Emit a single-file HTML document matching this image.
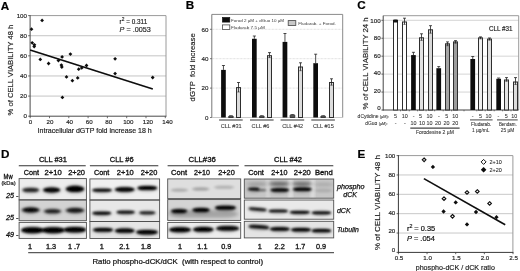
<!DOCTYPE html>
<html><head><meta charset="utf-8"><title>Figure</title>
<style>html,body{margin:0;padding:0;background:#fff}svg{display:block}</style></head>
<body>
<svg width="520" height="271" viewBox="0 0 520 271" font-family='"Liberation Sans", Arial, sans-serif'>
<defs>
<filter id="b1" x="-20%" y="-100%" width="140%" height="300%"><feGaussianBlur stdDeviation="1.3 0.95"/></filter>
<filter id="b2" x="-20%" y="-100%" width="140%" height="300%"><feGaussianBlur stdDeviation="1.7 1.3"/></filter>
<filter id="b3" x="-20%" y="-100%" width="140%" height="300%"><feGaussianBlur stdDeviation="2 1.6"/></filter>
<filter id="soft"><feGaussianBlur stdDeviation="0.35"/></filter>
</defs>
<rect width="520" height="271" fill="#fff"/>
<g filter="url(#soft)">
<text x="0.7" y="9.6" font-size="11.7" fill="#000" font-weight="bold" stroke="#000" stroke-width="0.2" >A</text>
<text x="185.8" y="9.3" font-size="11.7" fill="#000" font-weight="bold" stroke="#000" stroke-width="0.2" >B</text>
<text x="357.2" y="9.2" font-size="11.7" fill="#000" font-weight="bold" stroke="#000" stroke-width="0.2" >C</text>
<text x="0.9" y="157.5" font-size="11.7" fill="#000" font-weight="bold" stroke="#000" stroke-width="0.2" >D</text>
<text x="357.4" y="157.5" font-size="11.7" fill="#000" font-weight="bold" stroke="#000" stroke-width="0.2" >E</text>
<line x1="30.1" y1="96.08" x2="166.0" y2="96.08" stroke="#c4c4c4" stroke-width="1" />
<line x1="30.1" y1="75.96" x2="166.0" y2="75.96" stroke="#c4c4c4" stroke-width="1" />
<line x1="30.1" y1="55.84" x2="166.0" y2="55.84" stroke="#c4c4c4" stroke-width="1" />
<line x1="30.1" y1="35.72" x2="166.0" y2="35.72" stroke="#c4c4c4" stroke-width="1" />
<line x1="30.1" y1="15.6" x2="166.0" y2="15.6" stroke="#9a9a9a" stroke-width="1" />
<line x1="166.0" y1="15.6" x2="166.0" y2="116.2" stroke="#9a9a9a" stroke-width="1" />
<line x1="30.1" y1="15.1" x2="30.1" y2="116.7" stroke="#4a4a4a" stroke-width="1" />
<line x1="29.6" y1="116.2" x2="166.5" y2="116.2" stroke="#4a4a4a" stroke-width="1" />
<line x1="28.1" y1="116.20" x2="30.1" y2="116.20" stroke="#4a4a4a" stroke-width="0.8" />
<text x="27.0" y="117.82" font-size="6.2" fill="#222" text-anchor="end" stroke="#222" stroke-width="0.16" >0</text>
<line x1="28.1" y1="96.08" x2="30.1" y2="96.08" stroke="#4a4a4a" stroke-width="0.8" />
<text x="27.0" y="97.84" font-size="6.2" fill="#222" text-anchor="end" stroke="#222" stroke-width="0.16" >20</text>
<line x1="28.1" y1="75.96" x2="30.1" y2="75.96" stroke="#4a4a4a" stroke-width="0.8" />
<text x="27.0" y="77.86" font-size="6.2" fill="#222" text-anchor="end" stroke="#222" stroke-width="0.16" >40</text>
<line x1="28.1" y1="55.84" x2="30.1" y2="55.84" stroke="#4a4a4a" stroke-width="0.8" />
<text x="27.0" y="57.88" font-size="6.2" fill="#222" text-anchor="end" stroke="#222" stroke-width="0.16" >60</text>
<line x1="28.1" y1="35.72" x2="30.1" y2="35.72" stroke="#4a4a4a" stroke-width="0.8" />
<text x="27.0" y="37.90" font-size="6.2" fill="#222" text-anchor="end" stroke="#222" stroke-width="0.16" >80</text>
<line x1="28.1" y1="15.60" x2="30.1" y2="15.60" stroke="#4a4a4a" stroke-width="0.8" />
<text x="27.0" y="17.92" font-size="6.2" fill="#222" text-anchor="end" stroke="#222" stroke-width="0.16" >100</text>
<line x1="30.20" y1="116.2" x2="30.20" y2="118.2" stroke="#4a4a4a" stroke-width="0.8" />
<text x="30.50" y="123.7" font-size="6.2" fill="#222" text-anchor="middle" stroke="#222" stroke-width="0.16" >0</text>
<line x1="49.50" y1="116.2" x2="49.50" y2="118.2" stroke="#4a4a4a" stroke-width="0.8" />
<text x="50.06" y="123.7" font-size="6.2" fill="#222" text-anchor="middle" stroke="#222" stroke-width="0.16" >20</text>
<line x1="68.80" y1="116.2" x2="68.80" y2="118.2" stroke="#4a4a4a" stroke-width="0.8" />
<text x="69.62" y="123.7" font-size="6.2" fill="#222" text-anchor="middle" stroke="#222" stroke-width="0.16" >40</text>
<line x1="88.10" y1="116.2" x2="88.10" y2="118.2" stroke="#4a4a4a" stroke-width="0.8" />
<text x="89.18" y="123.7" font-size="6.2" fill="#222" text-anchor="middle" stroke="#222" stroke-width="0.16" >60</text>
<line x1="107.40" y1="116.2" x2="107.40" y2="118.2" stroke="#4a4a4a" stroke-width="0.8" />
<text x="108.74" y="123.7" font-size="6.2" fill="#222" text-anchor="middle" stroke="#222" stroke-width="0.16" >80</text>
<line x1="126.70" y1="116.2" x2="126.70" y2="118.2" stroke="#4a4a4a" stroke-width="0.8" />
<text x="128.30" y="123.7" font-size="6.2" fill="#222" text-anchor="middle" stroke="#222" stroke-width="0.16" >100</text>
<line x1="146.00" y1="116.2" x2="146.00" y2="118.2" stroke="#4a4a4a" stroke-width="0.8" />
<text x="147.86" y="123.7" font-size="6.2" fill="#222" text-anchor="middle" stroke="#222" stroke-width="0.16" >120</text>
<line x1="165.30" y1="116.2" x2="165.30" y2="118.2" stroke="#4a4a4a" stroke-width="0.8" />
<text x="167.42" y="123.7" font-size="6.2" fill="#222" text-anchor="middle" stroke="#222" stroke-width="0.16" >140</text>
<text x="37.6" y="132.6" font-size="7" fill="#1a1a1a" textLength="114.2" lengthAdjust="spacingAndGlyphs" stroke="#1a1a1a" stroke-width="0.16" >Intracellular dGTP fold increase 18 h</text>
<text x="12.8" y="115.5" font-size="7.6" fill="#222" textLength="90.8" lengthAdjust="spacingAndGlyphs" transform="rotate(-90 12.8 115.5)" stroke="#222" stroke-width="0.16" >% of CELL VIABILITY 48 h</text>
<path d="M42.10 18.50L44.00 20.40L42.10 22.30L40.20 20.40Z" fill="#111" stroke="none" stroke-width="0.8"/>
<path d="M31.50 27.30L33.40 29.20L31.50 31.10L29.60 29.20Z" fill="#111" stroke="none" stroke-width="0.8"/>
<path d="M32.20 40.90L34.10 42.80L32.20 44.70L30.30 42.80Z" fill="#111" stroke="none" stroke-width="0.8"/>
<path d="M34.40 42.90L36.30 44.80L34.40 46.70L32.50 44.80Z" fill="#111" stroke="none" stroke-width="0.8"/>
<path d="M34.20 44.60L36.10 46.50L34.20 48.40L32.30 46.50Z" fill="#111" stroke="none" stroke-width="0.8"/>
<path d="M40.30 57.50L42.20 59.40L40.30 61.30L38.40 59.40Z" fill="#111" stroke="none" stroke-width="0.8"/>
<path d="M48.60 61.60L50.50 63.50L48.60 65.40L46.70 63.50Z" fill="#111" stroke="none" stroke-width="0.8"/>
<path d="M58.40 58.60L60.30 60.50L58.40 62.40L56.50 60.50Z" fill="#111" stroke="none" stroke-width="0.8"/>
<path d="M62.10 55.00L64.00 56.90L62.10 58.80L60.20 56.90Z" fill="#111" stroke="none" stroke-width="0.8"/>
<path d="M70.40 52.20L72.30 54.10L70.40 56.00L68.50 54.10Z" fill="#111" stroke="none" stroke-width="0.8"/>
<path d="M61.40 63.20L63.30 65.10L61.40 67.00L59.50 65.10Z" fill="#111" stroke="none" stroke-width="0.8"/>
<path d="M61.80 65.10L63.70 67.00L61.80 68.90L59.90 67.00Z" fill="#111" stroke="none" stroke-width="0.8"/>
<path d="M78.70 67.30L80.60 69.20L78.70 71.10L76.80 69.20Z" fill="#111" stroke="none" stroke-width="0.8"/>
<path d="M81.70 66.00L83.60 67.90L81.70 69.80L79.80 67.90Z" fill="#111" stroke="none" stroke-width="0.8"/>
<path d="M86.50 63.60L88.40 65.50L86.50 67.40L84.60 65.50Z" fill="#111" stroke="none" stroke-width="0.8"/>
<path d="M66.50 75.00L68.40 76.90L66.50 78.80L64.60 76.90Z" fill="#111" stroke="none" stroke-width="0.8"/>
<path d="M72.40 78.80L74.30 80.70L72.40 82.60L70.50 80.70Z" fill="#111" stroke="none" stroke-width="0.8"/>
<path d="M77.70 76.00L79.60 77.90L77.70 79.80L75.80 77.90Z" fill="#111" stroke="none" stroke-width="0.8"/>
<path d="M62.40 95.50L64.30 97.40L62.40 99.30L60.50 97.40Z" fill="#111" stroke="none" stroke-width="0.8"/>
<path d="M115.10 56.90L117.00 58.80L115.10 60.70L113.20 58.80Z" fill="#111" stroke="none" stroke-width="0.8"/>
<path d="M115.10 71.70L117.00 73.60L115.10 75.50L113.20 73.60Z" fill="#111" stroke="none" stroke-width="0.8"/>
<path d="M152.70 75.60L154.60 77.50L152.70 79.40L150.80 77.50Z" fill="#111" stroke="none" stroke-width="0.8"/>
<line x1="30.1" y1="49.9" x2="152.8" y2="89.0" stroke="#0a0a0a" stroke-width="1.6" />
<text x="119.6" y="23.6" font-size="6.6" fill="#1a1a1a" stroke="#1a1a1a" stroke-width="0.15" textLength="27.6" lengthAdjust="spacingAndGlyphs">r<tspan dy="-2.2" font-size="5">2</tspan><tspan dy="2.2"> = 0.311</tspan></text>
<text x="119.6" y="32.0" font-size="7" fill="#1a1a1a" stroke="#1a1a1a" stroke-width="0.15" textLength="31.1" lengthAdjust="spacingAndGlyphs"><tspan font-style="italic">P</tspan> = .0053</text>
<line x1="211.8" y1="88.10" x2="342.7" y2="88.10" stroke="#d2d2d2" stroke-width="0.8" stroke-dasharray="0.8 0.6"/>
<line x1="211.8" y1="58.70" x2="342.7" y2="58.70" stroke="#d2d2d2" stroke-width="0.8" stroke-dasharray="0.8 0.6"/>
<line x1="211.8" y1="29.30" x2="342.7" y2="29.30" stroke="#d2d2d2" stroke-width="0.8" stroke-dasharray="0.8 0.6"/>
<line x1="211.8" y1="14.4" x2="342.7" y2="14.4" stroke="#8a8a8a" stroke-width="1" />
<line x1="342.7" y1="14.4" x2="342.7" y2="117.5" stroke="#8a8a8a" stroke-width="1" />
<line x1="211.8" y1="14.4" x2="211.8" y2="117.5" stroke="#777" stroke-width="1" />
<line x1="211.8" y1="117.5" x2="342.7" y2="117.5" stroke="#bbb" stroke-width="0.8" />
<line x1="210.0" y1="117.50" x2="211.8" y2="117.50" stroke="#555" stroke-width="0.8" />
<text x="208.4" y="119.72" font-size="6.2" fill="#222" text-anchor="end" stroke="#222" stroke-width="0.16" >0</text>
<line x1="210.0" y1="88.10" x2="211.8" y2="88.10" stroke="#555" stroke-width="0.8" />
<text x="208.4" y="90.32" font-size="6.2" fill="#222" text-anchor="end" stroke="#222" stroke-width="0.16" >20</text>
<line x1="210.0" y1="58.70" x2="211.8" y2="58.70" stroke="#555" stroke-width="0.8" />
<text x="208.4" y="60.92" font-size="6.2" fill="#222" text-anchor="end" stroke="#222" stroke-width="0.16" >40</text>
<line x1="210.0" y1="29.30" x2="211.8" y2="29.30" stroke="#555" stroke-width="0.8" />
<text x="208.4" y="31.52" font-size="6.2" fill="#222" text-anchor="end" stroke="#222" stroke-width="0.16" >60</text>
<text x="195.3" y="101.4" font-size="7.7" fill="#222" textLength="68.2" lengthAdjust="spacingAndGlyphs" transform="rotate(-90 195.3 101.4)" stroke="#222" stroke-width="0.16" style="white-space:pre">dGTP  fold increase</text>
<rect x="222.40" y="17.40" width="7.40" height="4.70" fill="#111" stroke="#111" stroke-width="0.6" />
<rect x="222.40" y="24.90" width="7.40" height="4.70" fill="#fff" stroke="#333" stroke-width="0.7" />
<rect x="288.20" y="20.60" width="7.60" height="4.90" fill="#c8c8c8" stroke="#444" stroke-width="0.8" />
<text x="231.0" y="21.7" font-size="4.3" fill="#3a3a3a" textLength="53" lengthAdjust="spacingAndGlyphs" >Forod 2 µM + dGuo 10 µM</text>
<text x="231.0" y="28.6" font-size="4.3" fill="#3a3a3a" textLength="33.8" lengthAdjust="spacingAndGlyphs" >Fludarab 7.5 µM</text>
<text x="298.3" y="24.8" font-size="4.3" fill="#3a3a3a" textLength="37.5" lengthAdjust="spacingAndGlyphs" >Fludarab. + Forod.</text>
<line x1="223.45" y1="65.50" x2="223.45" y2="69.90" stroke="#222" stroke-width="0.8" />
<line x1="221.95" y1="65.50" x2="224.95" y2="65.50" stroke="#222" stroke-width="0.8" />
<rect x="221.10" y="69.90" width="4.70" height="47.60" fill="#0a0a0a" stroke="none" stroke-width="1" />
<path d="M228.60 117.5 V116.70 Q228.60 115.70 230.10 115.70 H231.80 Q233.30 115.70 233.30 116.70 V117.5 Z" fill="#555" stroke="#222" stroke-width="0.8"/>
<rect x="236.50" y="87.60" width="4.00" height="29.90" fill="#dcdcdc" stroke="#2e2e2e" stroke-width="1.0" />
<line x1="238.50" y1="82.50" x2="238.50" y2="92.00" stroke="#222" stroke-width="0.8" />
<line x1="237.00" y1="82.50" x2="240.00" y2="82.50" stroke="#222" stroke-width="0.8" />
<line x1="237.30" y1="92.00" x2="239.70" y2="92.00" stroke="#222" stroke-width="0.6" />
<line x1="219.10" y1="120.0" x2="242.70" y2="120.0" stroke="#555" stroke-width="1.2" />
<text x="220.70" y="127.8" font-size="5.6" fill="#333" stroke="#333" stroke-width="0.08" >CLL #31</text>
<line x1="254.35" y1="36.00" x2="254.35" y2="38.80" stroke="#222" stroke-width="0.8" />
<line x1="252.85" y1="36.00" x2="255.85" y2="36.00" stroke="#222" stroke-width="0.8" />
<rect x="252.00" y="38.80" width="4.70" height="78.70" fill="#0a0a0a" stroke="none" stroke-width="1" />
<path d="M259.50 117.5 V116.70 Q259.50 115.70 261.00 115.70 H262.70 Q264.20 115.70 264.20 116.70 V117.5 Z" fill="#555" stroke="#222" stroke-width="0.8"/>
<rect x="267.50" y="55.70" width="4.00" height="61.80" fill="#dcdcdc" stroke="#2e2e2e" stroke-width="1.0" />
<line x1="269.50" y1="52.60" x2="269.50" y2="57.60" stroke="#222" stroke-width="0.8" />
<line x1="268.00" y1="52.60" x2="271.00" y2="52.60" stroke="#222" stroke-width="0.8" />
<line x1="268.30" y1="57.60" x2="270.70" y2="57.60" stroke="#222" stroke-width="0.6" />
<line x1="250.00" y1="120.0" x2="273.60" y2="120.0" stroke="#555" stroke-width="1.2" />
<text x="251.60" y="127.8" font-size="5.6" fill="#333" stroke="#333" stroke-width="0.08" >CLL #6</text>
<line x1="284.95" y1="33.50" x2="284.95" y2="41.90" stroke="#222" stroke-width="0.8" />
<line x1="283.45" y1="33.50" x2="286.45" y2="33.50" stroke="#222" stroke-width="0.8" />
<rect x="282.60" y="41.90" width="4.70" height="75.60" fill="#0a0a0a" stroke="none" stroke-width="1" />
<path d="M290.10 117.5 V115.60 Q290.10 114.60 291.60 114.60 H293.30 Q294.80 114.60 294.80 115.60 V117.5 Z" fill="#555" stroke="#222" stroke-width="0.8"/>
<rect x="298.50" y="67.00" width="4.00" height="50.50" fill="#dcdcdc" stroke="#2e2e2e" stroke-width="1.0" />
<line x1="300.50" y1="62.80" x2="300.50" y2="70.70" stroke="#222" stroke-width="0.8" />
<line x1="299.00" y1="62.80" x2="302.00" y2="62.80" stroke="#222" stroke-width="0.8" />
<line x1="299.30" y1="70.70" x2="301.70" y2="70.70" stroke="#222" stroke-width="0.6" />
<line x1="280.60" y1="120.0" x2="304.20" y2="120.0" stroke="#555" stroke-width="1.2" />
<text x="282.20" y="127.8" font-size="5.6" fill="#333" stroke="#333" stroke-width="0.08" >CLL #42</text>
<line x1="315.65" y1="54.20" x2="315.65" y2="63.20" stroke="#222" stroke-width="0.8" />
<line x1="314.15" y1="54.20" x2="317.15" y2="54.20" stroke="#222" stroke-width="0.8" />
<rect x="313.30" y="63.20" width="4.70" height="54.30" fill="#0a0a0a" stroke="none" stroke-width="1" />
<path d="M320.80 117.5 V116.70 Q320.80 115.70 322.30 115.70 H324.00 Q325.50 115.70 325.50 116.70 V117.5 Z" fill="#555" stroke="#222" stroke-width="0.8"/>
<rect x="329.50" y="82.50" width="4.00" height="35.00" fill="#dcdcdc" stroke="#2e2e2e" stroke-width="1.0" />
<line x1="331.50" y1="78.80" x2="331.50" y2="85.20" stroke="#222" stroke-width="0.8" />
<line x1="330.00" y1="78.80" x2="333.00" y2="78.80" stroke="#222" stroke-width="0.8" />
<line x1="330.30" y1="85.20" x2="332.70" y2="85.20" stroke="#222" stroke-width="0.6" />
<line x1="311.30" y1="120.0" x2="334.90" y2="120.0" stroke="#555" stroke-width="1.2" />
<text x="312.90" y="127.8" font-size="5.6" fill="#333" stroke="#333" stroke-width="0.08" >CLL #15</text>
<line x1="383.2" y1="92.06" x2="518.7" y2="92.06" stroke="#d0d0d0" stroke-width="0.9" />
<line x1="383.2" y1="74.12" x2="518.7" y2="74.12" stroke="#d0d0d0" stroke-width="0.9" />
<line x1="383.2" y1="56.18" x2="518.7" y2="56.18" stroke="#d0d0d0" stroke-width="0.9" />
<line x1="383.2" y1="38.24" x2="518.7" y2="38.24" stroke="#d0d0d0" stroke-width="0.9" />
<line x1="383.2" y1="20.30" x2="518.7" y2="20.30" stroke="#d0d0d0" stroke-width="0.9" />
<line x1="383.2" y1="15.7" x2="518.7" y2="15.7" stroke="#9a9a9a" stroke-width="1" />
<line x1="518.7" y1="15.7" x2="518.7" y2="110.0" stroke="#9a9a9a" stroke-width="1" />
<line x1="383.2" y1="15.7" x2="383.2" y2="110.5" stroke="#444" stroke-width="1" />
<line x1="382.7" y1="110.0" x2="518.7" y2="110.0" stroke="#444" stroke-width="1" />
<line x1="381.4" y1="110.00" x2="383.2" y2="110.00" stroke="#444" stroke-width="0.8" />
<text x="380.6" y="110.32" font-size="6.2" fill="#222" text-anchor="end" stroke="#222" stroke-width="0.16" >0</text>
<line x1="381.4" y1="92.06" x2="383.2" y2="92.06" stroke="#444" stroke-width="0.8" />
<text x="380.6" y="92.84" font-size="6.2" fill="#222" text-anchor="end" stroke="#222" stroke-width="0.16" >20</text>
<line x1="381.4" y1="74.12" x2="383.2" y2="74.12" stroke="#444" stroke-width="0.8" />
<text x="380.6" y="75.36" font-size="6.2" fill="#222" text-anchor="end" stroke="#222" stroke-width="0.16" >40</text>
<line x1="381.4" y1="56.18" x2="383.2" y2="56.18" stroke="#444" stroke-width="0.8" />
<text x="380.6" y="57.88" font-size="6.2" fill="#222" text-anchor="end" stroke="#222" stroke-width="0.16" >60</text>
<line x1="381.4" y1="38.24" x2="383.2" y2="38.24" stroke="#444" stroke-width="0.8" />
<text x="380.6" y="40.40" font-size="6.2" fill="#222" text-anchor="end" stroke="#222" stroke-width="0.16" >80</text>
<line x1="381.4" y1="20.30" x2="383.2" y2="20.30" stroke="#444" stroke-width="0.8" />
<text x="380.6" y="22.92" font-size="6.2" fill="#222" text-anchor="end" stroke="#222" stroke-width="0.16" >100</text>
<text x="368.3" y="109.4" font-size="7.7" fill="#222" textLength="92" lengthAdjust="spacingAndGlyphs" transform="rotate(-90 368.3 109.4)" stroke="#222" stroke-width="0.16" >% of CELL VIABILITY 24 h</text>
<text x="489.1" y="30.7" font-size="6.3" fill="#222" textLength="23.4" lengthAdjust="spacingAndGlyphs" stroke="#222" stroke-width="0.16" >CLL #31</text>
<rect x="393.50" y="20.40" width="4.00" height="89.60" fill="#fff" stroke="#2e2e2e" stroke-width="1.0" />
<path d="M393.00 22.40 V20.80 Q393.00 19.40 394.50 19.40 H396.50 Q398.00 19.40 398.00 20.80 V22.40 Z" fill="#161616"/>
<rect x="402.50" y="22.00" width="4.00" height="88.00" fill="#fff" stroke="#2e2e2e" stroke-width="1.0" />
<line x1="404.50" y1="18.20" x2="404.50" y2="24.40" stroke="#222" stroke-width="0.8" />
<line x1="403.00" y1="18.20" x2="406.00" y2="18.20" stroke="#222" stroke-width="0.8" />
<line x1="403.30" y1="24.40" x2="405.70" y2="24.40" stroke="#222" stroke-width="0.6" />
<rect x="411.10" y="55.10" width="4.70" height="54.90" fill="#0a0a0a" stroke="none" stroke-width="1" />
<line x1="413.45" y1="52.30" x2="413.45" y2="55.10" stroke="#222" stroke-width="0.8" />
<line x1="411.95" y1="52.30" x2="414.95" y2="52.30" stroke="#222" stroke-width="0.8" />
<rect x="419.50" y="37.80" width="4.00" height="72.20" fill="#e2e2e2" stroke="#2e2e2e" stroke-width="1.0" />
<line x1="421.50" y1="33.80" x2="421.50" y2="40.40" stroke="#222" stroke-width="0.8" />
<line x1="420.00" y1="33.80" x2="423.00" y2="33.80" stroke="#222" stroke-width="0.8" />
<line x1="420.30" y1="40.40" x2="422.70" y2="40.40" stroke="#222" stroke-width="0.6" />
<rect x="428.50" y="29.80" width="4.00" height="80.20" fill="#d8d8d8" stroke="#2e2e2e" stroke-width="1.0" />
<line x1="430.50" y1="25.70" x2="430.50" y2="33.20" stroke="#222" stroke-width="0.8" />
<line x1="429.00" y1="25.70" x2="432.00" y2="25.70" stroke="#222" stroke-width="0.8" />
<line x1="429.30" y1="33.20" x2="431.70" y2="33.20" stroke="#222" stroke-width="0.6" />
<rect x="436.40" y="68.20" width="4.70" height="41.80" fill="#0a0a0a" stroke="none" stroke-width="1" />
<line x1="438.75" y1="66.60" x2="438.75" y2="68.20" stroke="#222" stroke-width="0.8" />
<line x1="437.25" y1="66.60" x2="440.25" y2="66.60" stroke="#222" stroke-width="0.8" />
<rect x="445.50" y="43.80" width="4.00" height="66.20" fill="#a4a4a4" stroke="#2e2e2e" stroke-width="1.0" />
<line x1="447.50" y1="41.90" x2="447.50" y2="45.70" stroke="#222" stroke-width="0.8" />
<line x1="446.00" y1="41.90" x2="449.00" y2="41.90" stroke="#222" stroke-width="0.8" />
<line x1="446.30" y1="45.70" x2="448.70" y2="45.70" stroke="#222" stroke-width="0.6" />
<rect x="453.50" y="41.90" width="4.00" height="68.10" fill="#9c9c9c" stroke="#2e2e2e" stroke-width="1.0" />
<line x1="455.50" y1="40.60" x2="455.50" y2="43.20" stroke="#222" stroke-width="0.8" />
<line x1="454.00" y1="40.60" x2="457.00" y2="40.60" stroke="#222" stroke-width="0.8" />
<line x1="454.30" y1="43.20" x2="456.70" y2="43.20" stroke="#222" stroke-width="0.6" />
<rect x="470.40" y="59.00" width="4.70" height="51.00" fill="#0a0a0a" stroke="none" stroke-width="1" />
<line x1="472.75" y1="56.50" x2="472.75" y2="59.00" stroke="#222" stroke-width="0.8" />
<line x1="471.25" y1="56.50" x2="474.25" y2="56.50" stroke="#222" stroke-width="0.8" />
<rect x="478.50" y="37.90" width="4.00" height="72.10" fill="#f0f0f0" stroke="#2e2e2e" stroke-width="1.0" />
<line x1="480.50" y1="36.90" x2="480.50" y2="38.90" stroke="#222" stroke-width="0.8" />
<line x1="479.00" y1="36.90" x2="482.00" y2="36.90" stroke="#222" stroke-width="0.8" />
<line x1="479.30" y1="38.90" x2="481.70" y2="38.90" stroke="#222" stroke-width="0.6" />
<rect x="487.50" y="39.10" width="4.00" height="70.90" fill="#dedede" stroke="#2e2e2e" stroke-width="1.0" />
<line x1="489.50" y1="38.00" x2="489.50" y2="40.20" stroke="#222" stroke-width="0.8" />
<line x1="488.00" y1="38.00" x2="491.00" y2="38.00" stroke="#222" stroke-width="0.8" />
<line x1="488.30" y1="40.20" x2="490.70" y2="40.20" stroke="#222" stroke-width="0.6" />
<rect x="496.30" y="78.80" width="4.70" height="31.20" fill="#0a0a0a" stroke="none" stroke-width="1" />
<line x1="498.65" y1="78.00" x2="498.65" y2="78.80" stroke="#222" stroke-width="0.8" />
<line x1="497.15" y1="78.00" x2="500.15" y2="78.00" stroke="#222" stroke-width="0.8" />
<rect x="504.50" y="80.00" width="4.00" height="30.00" fill="#e4e4e4" stroke="#2e2e2e" stroke-width="1.0" />
<line x1="506.50" y1="77.60" x2="506.50" y2="81.30" stroke="#222" stroke-width="0.8" />
<line x1="505.00" y1="77.60" x2="508.00" y2="77.60" stroke="#222" stroke-width="0.8" />
<line x1="505.30" y1="81.30" x2="507.70" y2="81.30" stroke="#222" stroke-width="0.6" />
<rect x="513.50" y="82.00" width="4.00" height="28.00" fill="#dedede" stroke="#2e2e2e" stroke-width="1.0" />
<line x1="515.50" y1="77.60" x2="515.50" y2="84.50" stroke="#222" stroke-width="0.8" />
<line x1="514.00" y1="77.60" x2="517.00" y2="77.60" stroke="#222" stroke-width="0.8" />
<line x1="514.30" y1="84.50" x2="516.70" y2="84.50" stroke="#222" stroke-width="0.6" />
<line x1="400.5" y1="110.0" x2="400.5" y2="111.3" stroke="#444" stroke-width="0.7" />
<line x1="409.3" y1="110.0" x2="409.3" y2="111.3" stroke="#444" stroke-width="0.7" />
<line x1="417.6" y1="110.0" x2="417.6" y2="111.3" stroke="#444" stroke-width="0.7" />
<line x1="426.1" y1="110.0" x2="426.1" y2="111.3" stroke="#444" stroke-width="0.7" />
<line x1="434.6" y1="110.0" x2="434.6" y2="111.3" stroke="#444" stroke-width="0.7" />
<line x1="443.2" y1="110.0" x2="443.2" y2="111.3" stroke="#444" stroke-width="0.7" />
<line x1="451.6" y1="110.0" x2="451.6" y2="111.3" stroke="#444" stroke-width="0.7" />
<line x1="464" y1="110.0" x2="464" y2="111.3" stroke="#444" stroke-width="0.7" />
<line x1="476.8" y1="110.0" x2="476.8" y2="111.3" stroke="#444" stroke-width="0.7" />
<line x1="485.2" y1="110.0" x2="485.2" y2="111.3" stroke="#444" stroke-width="0.7" />
<line x1="494.2" y1="110.0" x2="494.2" y2="111.3" stroke="#444" stroke-width="0.7" />
<line x1="502.6" y1="110.0" x2="502.6" y2="111.3" stroke="#444" stroke-width="0.7" />
<line x1="511" y1="110.0" x2="511" y2="111.3" stroke="#444" stroke-width="0.7" />
<text x="357.6" y="118.2" font-size="5.0" fill="#333" textLength="31.4" lengthAdjust="spacingAndGlyphs" stroke="#333" stroke-width="0.08" >dCytidine <tspan font-size="3.9">(µM):</tspan></text>
<text x="365.3" y="125.2" font-size="5.0" fill="#333" textLength="22.3" lengthAdjust="spacingAndGlyphs" stroke="#333" stroke-width="0.08" >dGuo <tspan font-size="3.9">(µM):</tspan></text>
<text x="395.6" y="118.4" font-size="5.4" fill="#333" text-anchor="middle" stroke="#333" stroke-width="0.08" >5</text>
<text x="404.8" y="118.4" font-size="5.4" fill="#333" text-anchor="middle" stroke="#333" stroke-width="0.08" >10</text>
<text x="413.6" y="118.4" font-size="5.4" fill="#333" text-anchor="middle" stroke="#333" stroke-width="0.08" >-</text>
<text x="420.5" y="118.4" font-size="5.4" fill="#333" text-anchor="middle" stroke="#333" stroke-width="0.08" >5</text>
<text x="429.5" y="118.4" font-size="5.4" fill="#333" text-anchor="middle" stroke="#333" stroke-width="0.08" >10</text>
<text x="438.9" y="118.4" font-size="5.4" fill="#333" text-anchor="middle" stroke="#333" stroke-width="0.08" >-</text>
<text x="446.7" y="118.4" font-size="5.4" fill="#333" text-anchor="middle" stroke="#333" stroke-width="0.08" >5</text>
<text x="455.2" y="118.4" font-size="5.4" fill="#333" text-anchor="middle" stroke="#333" stroke-width="0.08" >10</text>
<text x="472.6" y="118.4" font-size="5.4" fill="#333" text-anchor="middle" stroke="#333" stroke-width="0.08" >-</text>
<text x="480.6" y="118.4" font-size="5.4" fill="#333" text-anchor="middle" stroke="#333" stroke-width="0.08" >5</text>
<text x="488.4" y="118.4" font-size="5.4" fill="#333" text-anchor="middle" stroke="#333" stroke-width="0.08" >10</text>
<text x="498.4" y="118.4" font-size="5.4" fill="#333" text-anchor="middle" stroke="#333" stroke-width="0.08" >-</text>
<text x="506.2" y="118.4" font-size="5.4" fill="#333" text-anchor="middle" stroke="#333" stroke-width="0.08" >5</text>
<text x="514.2" y="118.4" font-size="5.4" fill="#333" text-anchor="middle" stroke="#333" stroke-width="0.08" >10</text>
<text x="395.6" y="125.2" font-size="5.4" fill="#333" text-anchor="middle" stroke="#333" stroke-width="0.08" >-</text>
<text x="404.8" y="125.2" font-size="5.4" fill="#333" text-anchor="middle" stroke="#333" stroke-width="0.08" >-</text>
<text x="413.6" y="125.2" font-size="5.4" fill="#333" text-anchor="middle" stroke="#333" stroke-width="0.08" >10</text>
<text x="421.9" y="125.2" font-size="5.4" fill="#333" text-anchor="middle" stroke="#333" stroke-width="0.08" >10</text>
<text x="429.6" y="125.2" font-size="5.4" fill="#333" text-anchor="middle" stroke="#333" stroke-width="0.08" >10</text>
<text x="438.0" y="125.2" font-size="5.4" fill="#333" text-anchor="middle" stroke="#333" stroke-width="0.08" >20</text>
<text x="446.5" y="125.2" font-size="5.4" fill="#333" text-anchor="middle" stroke="#333" stroke-width="0.08" >20</text>
<text x="455.2" y="125.2" font-size="5.4" fill="#333" text-anchor="middle" stroke="#333" stroke-width="0.08" >20</text>
<line x1="410.3" y1="128.1" x2="459.6" y2="128.1" stroke="#444" stroke-width="1.2" />
<text x="416.0" y="133.8" font-size="5.0" fill="#333" textLength="37.9" lengthAdjust="spacingAndGlyphs" stroke="#333" stroke-width="0.08" >Forodesine 2 µM</text>
<line x1="470.0" y1="119.9" x2="492.6" y2="119.9" stroke="#555" stroke-width="1.1" />
<line x1="497.0" y1="119.9" x2="517.7" y2="119.9" stroke="#555" stroke-width="1.1" />
<text x="481.1" y="125.9" font-size="4.8" fill="#333" text-anchor="middle" textLength="20.1" lengthAdjust="spacingAndGlyphs" stroke="#333" stroke-width="0.08" >Fludarab.</text>
<text x="480.8" y="131.6" font-size="4.8" fill="#333" text-anchor="middle" stroke="#333" stroke-width="0.08" >1 µg/mL</text>
<text x="507.8" y="125.9" font-size="4.6" fill="#333" text-anchor="middle" textLength="17.8" lengthAdjust="spacingAndGlyphs" stroke="#333" stroke-width="0.08" >Bendam.</text>
<text x="507.5" y="131.6" font-size="4.8" fill="#333" text-anchor="middle" stroke="#333" stroke-width="0.08" >25 µM</text>
<line x1="398.4" y1="233.04" x2="512.9" y2="233.04" stroke="#c8c8c8" stroke-width="1" />
<line x1="398.4" y1="213.68" x2="512.9" y2="213.68" stroke="#c8c8c8" stroke-width="1" />
<line x1="398.4" y1="194.32" x2="512.9" y2="194.32" stroke="#c8c8c8" stroke-width="1" />
<line x1="398.4" y1="174.96" x2="512.9" y2="174.96" stroke="#c8c8c8" stroke-width="1" />
<line x1="398.4" y1="155.6" x2="512.9" y2="155.6" stroke="#9a9a9a" stroke-width="1" />
<line x1="512.9" y1="155.6" x2="512.9" y2="252.4" stroke="#9a9a9a" stroke-width="1" />
<line x1="398.4" y1="155.1" x2="398.4" y2="252.9" stroke="#3a3a3a" stroke-width="1" />
<line x1="397.9" y1="252.4" x2="513.4" y2="252.4" stroke="#3a3a3a" stroke-width="1" />
<line x1="396.59999999999997" y1="252.40" x2="398.4" y2="252.40" stroke="#3a3a3a" stroke-width="0.8" />
<text x="395.3" y="252.22" font-size="6.2" fill="#222" text-anchor="end" stroke="#222" stroke-width="0.16" >0</text>
<line x1="396.59999999999997" y1="233.04" x2="398.4" y2="233.04" stroke="#3a3a3a" stroke-width="0.8" />
<text x="395.3" y="233.36" font-size="6.2" fill="#222" text-anchor="end" stroke="#222" stroke-width="0.16" >20</text>
<line x1="396.59999999999997" y1="213.68" x2="398.4" y2="213.68" stroke="#3a3a3a" stroke-width="0.8" />
<text x="395.3" y="214.50" font-size="6.2" fill="#222" text-anchor="end" stroke="#222" stroke-width="0.16" >40</text>
<line x1="396.59999999999997" y1="194.32" x2="398.4" y2="194.32" stroke="#3a3a3a" stroke-width="0.8" />
<text x="395.3" y="195.64" font-size="6.2" fill="#222" text-anchor="end" stroke="#222" stroke-width="0.16" >60</text>
<line x1="396.59999999999997" y1="174.96" x2="398.4" y2="174.96" stroke="#3a3a3a" stroke-width="0.8" />
<text x="395.3" y="176.78" font-size="6.2" fill="#222" text-anchor="end" stroke="#222" stroke-width="0.16" >80</text>
<line x1="396.59999999999997" y1="155.60" x2="398.4" y2="155.60" stroke="#3a3a3a" stroke-width="0.8" />
<text x="395.3" y="157.92" font-size="6.2" fill="#222" text-anchor="end" stroke="#222" stroke-width="0.16" >100</text>
<line x1="398.40" y1="252.4" x2="398.40" y2="254.20000000000002" stroke="#3a3a3a" stroke-width="0.8" />
<text x="399.00" y="259.7" font-size="6.2" fill="#222" text-anchor="middle" stroke="#222" stroke-width="0.16" >0.5</text>
<line x1="427.05" y1="252.4" x2="427.05" y2="254.20000000000002" stroke="#3a3a3a" stroke-width="0.8" />
<text x="427.65" y="259.7" font-size="6.2" fill="#222" text-anchor="middle" stroke="#222" stroke-width="0.16" >1.0</text>
<line x1="455.70" y1="252.4" x2="455.70" y2="254.20000000000002" stroke="#3a3a3a" stroke-width="0.8" />
<text x="456.30" y="259.7" font-size="6.2" fill="#222" text-anchor="middle" stroke="#222" stroke-width="0.16" >1.5</text>
<line x1="484.35" y1="252.4" x2="484.35" y2="254.20000000000002" stroke="#3a3a3a" stroke-width="0.8" />
<text x="484.95" y="259.7" font-size="6.2" fill="#222" text-anchor="middle" stroke="#222" stroke-width="0.16" >2.0</text>
<line x1="513.00" y1="252.4" x2="513.00" y2="254.20000000000002" stroke="#3a3a3a" stroke-width="0.8" />
<text x="513.60" y="259.7" font-size="6.2" fill="#222" text-anchor="middle" stroke="#222" stroke-width="0.16" >2.5</text>
<text x="415.7" y="269.7" font-size="7.1" fill="#222" textLength="79.2" lengthAdjust="spacingAndGlyphs" stroke="#222" stroke-width="0.16" >phospho-dCK / dCK ratio</text>
<text x="380.4" y="250.1" font-size="7.9" fill="#222" textLength="95" lengthAdjust="spacingAndGlyphs" transform="rotate(-90 380.4 250.1)" stroke="#222" stroke-width="0.16" >% of CELL VIABILITY 48 h</text>
<line x1="423.9" y1="178.6" x2="505.2" y2="224.8" stroke="#0a0a0a" stroke-width="1.6" />
<path d="M424.10 158.00L425.90 159.80L424.10 161.60L422.30 159.80Z" fill="#fff" stroke="#111" stroke-width="1.15"/>
<path d="M444.00 196.90L445.80 198.70L444.00 200.50L442.20 198.70Z" fill="#fff" stroke="#111" stroke-width="1.15"/>
<path d="M467.00 190.70L468.80 192.50L467.00 194.30L465.20 192.50Z" fill="#fff" stroke="#111" stroke-width="1.15"/>
<path d="M477.30 189.70L479.10 191.50L477.30 193.30L475.50 191.50Z" fill="#fff" stroke="#111" stroke-width="1.15"/>
<path d="M489.60 201.70L491.40 203.50L489.60 205.30L487.80 203.50Z" fill="#fff" stroke="#111" stroke-width="1.15"/>
<path d="M452.50 214.50L454.30 216.30L452.50 218.10L450.70 216.30Z" fill="#fff" stroke="#111" stroke-width="1.15"/>
<path d="M432.90 164.75L435.05 166.90L432.90 169.05L430.75 166.90Z" fill="#0a0a0a" stroke="none" stroke-width="0.8"/>
<path d="M455.70 200.25L457.85 202.40L455.70 204.55L453.55 202.40Z" fill="#0a0a0a" stroke="none" stroke-width="0.8"/>
<path d="M443.60 209.35L445.75 211.50L443.60 213.65L441.45 211.50Z" fill="#0a0a0a" stroke="none" stroke-width="0.8"/>
<path d="M476.00 209.85L478.15 212.00L476.00 214.15L473.85 212.00Z" fill="#0a0a0a" stroke="none" stroke-width="0.8"/>
<path d="M467.00 222.25L469.15 224.40L467.00 226.55L464.85 224.40Z" fill="#0a0a0a" stroke="none" stroke-width="0.8"/>
<path d="M496.50 215.05L498.65 217.20L496.50 219.35L494.35 217.20Z" fill="#0a0a0a" stroke="none" stroke-width="0.8"/>
<path d="M483.60 159.40L486.10 161.90L483.60 164.40L481.10 161.90Z" fill="#fff" stroke="#111" stroke-width="1.0"/>
<path d="M483.60 167.00L486.40 169.80L483.60 172.60L480.80 169.80Z" fill="#0a0a0a" stroke="none" stroke-width="0.8"/>
<text x="489.5" y="163.9" font-size="5.4" fill="#222" textLength="12.2" lengthAdjust="spacingAndGlyphs" stroke="#222" stroke-width="0.08" >2+10</text>
<text x="489.5" y="171.8" font-size="5.4" fill="#222" textLength="12.2" lengthAdjust="spacingAndGlyphs" stroke="#222" stroke-width="0.08" >2+20</text>
<text x="406.9" y="230.7" font-size="7.3" fill="#111" stroke="#111" stroke-width="0.2" textLength="28.3" lengthAdjust="spacingAndGlyphs">r<tspan dy="-2.4" font-size="5.2">2</tspan><tspan dy="2.4"> = 0.35</tspan></text>
<text x="406.9" y="240.7" font-size="7.4" fill="#111" stroke="#111" stroke-width="0.2" textLength="28" lengthAdjust="spacingAndGlyphs"><tspan font-style="italic">P</tspan> = .054</text>
<text x="52.9" y="162.2" font-size="7.6" fill="#0c0c0c" text-anchor="middle" textLength="28" lengthAdjust="spacingAndGlyphs" stroke="#0c0c0c" stroke-width="0.3" >CLL #31</text>
<line x1="18.8" y1="165.7" x2="85.7" y2="165.7" stroke="#333" stroke-width="1.1" />
<text x="121.7" y="162.2" font-size="7.6" fill="#0c0c0c" text-anchor="middle" textLength="23.8" lengthAdjust="spacingAndGlyphs" stroke="#0c0c0c" stroke-width="0.3" >CLL #6</text>
<line x1="89.9" y1="165.7" x2="158.3" y2="165.7" stroke="#333" stroke-width="1.1" />
<text x="202.2" y="162.2" font-size="7.6" fill="#0c0c0c" text-anchor="middle" textLength="27.2" lengthAdjust="spacingAndGlyphs" stroke="#0c0c0c" stroke-width="0.3" >CLL#36</text>
<line x1="167.6" y1="165.7" x2="238.8" y2="165.7" stroke="#333" stroke-width="1.1" />
<text x="288.0" y="162.2" font-size="7.6" fill="#0c0c0c" text-anchor="middle" textLength="28" lengthAdjust="spacingAndGlyphs" stroke="#0c0c0c" stroke-width="0.3" >CLL #42</text>
<line x1="244.5" y1="165.7" x2="333.3" y2="165.7" stroke="#333" stroke-width="1.1" />
<text x="31.4" y="174.5" font-size="7.6" fill="#0c0c0c" text-anchor="middle" textLength="15.3" lengthAdjust="spacingAndGlyphs" stroke="#0c0c0c" stroke-width="0.3" >Cont</text>
<text x="53.1" y="174.5" font-size="7.6" fill="#0c0c0c" text-anchor="middle" textLength="17.2" lengthAdjust="spacingAndGlyphs" stroke="#0c0c0c" stroke-width="0.3" >2+10</text>
<text x="76.6" y="174.5" font-size="7.6" fill="#0c0c0c" text-anchor="middle" textLength="16.9" lengthAdjust="spacingAndGlyphs" stroke="#0c0c0c" stroke-width="0.3" >2+20</text>
<text x="101.6" y="174.5" font-size="7.6" fill="#0c0c0c" text-anchor="middle" textLength="15.3" lengthAdjust="spacingAndGlyphs" stroke="#0c0c0c" stroke-width="0.3" >Cont</text>
<text x="125.3" y="174.5" font-size="7.6" fill="#0c0c0c" text-anchor="middle" textLength="16.9" lengthAdjust="spacingAndGlyphs" stroke="#0c0c0c" stroke-width="0.3" >2+10</text>
<text x="149.0" y="174.5" font-size="7.6" fill="#0c0c0c" text-anchor="middle" textLength="16.7" lengthAdjust="spacingAndGlyphs" stroke="#0c0c0c" stroke-width="0.3" >2+20</text>
<text x="179.0" y="174.5" font-size="7.6" fill="#0c0c0c" text-anchor="middle" textLength="16.0" lengthAdjust="spacingAndGlyphs" stroke="#0c0c0c" stroke-width="0.3" >Cont</text>
<text x="201.9" y="174.5" font-size="7.6" fill="#0c0c0c" text-anchor="middle" textLength="16.0" lengthAdjust="spacingAndGlyphs" stroke="#0c0c0c" stroke-width="0.3" >2+10</text>
<text x="226.5" y="174.5" font-size="7.6" fill="#0c0c0c" text-anchor="middle" textLength="16.5" lengthAdjust="spacingAndGlyphs" stroke="#0c0c0c" stroke-width="0.3" >2+20</text>
<text x="256.0" y="174.5" font-size="7.6" fill="#0c0c0c" text-anchor="middle" textLength="15.7" lengthAdjust="spacingAndGlyphs" stroke="#0c0c0c" stroke-width="0.3" >Cont</text>
<text x="279.4" y="174.5" font-size="7.6" fill="#0c0c0c" text-anchor="middle" textLength="16.1" lengthAdjust="spacingAndGlyphs" stroke="#0c0c0c" stroke-width="0.3" >2+10</text>
<text x="302.3" y="174.5" font-size="7.6" fill="#0c0c0c" text-anchor="middle" textLength="17.0" lengthAdjust="spacingAndGlyphs" stroke="#0c0c0c" stroke-width="0.3" >2+20</text>
<text x="323.8" y="174.5" font-size="7.6" fill="#0c0c0c" text-anchor="middle" textLength="17.8" lengthAdjust="spacingAndGlyphs" stroke="#0c0c0c" stroke-width="0.3" >Bend</text>
<text x="3.6" y="178.8" font-size="6.4" fill="#111" textLength="9.0" lengthAdjust="spacingAndGlyphs" stroke="#111" stroke-width="0.28" >Mw</text>
<text x="1.4" y="185.3" font-size="5.4" fill="#222" textLength="14.3" lengthAdjust="spacingAndGlyphs" stroke="#222" stroke-width="0.2" >(kDa)</text>
<text x="6.0" y="197.6" font-size="6.8" fill="#111" font-style="italic" textLength="12.3" lengthAdjust="spacingAndGlyphs" stroke="#111" stroke-width="0.28" >25 -</text>
<text x="6.0" y="219.6" font-size="6.8" fill="#111" font-style="italic" textLength="12.3" lengthAdjust="spacingAndGlyphs" stroke="#111" stroke-width="0.28" >25 -</text>
<text x="6.0" y="237.4" font-size="6.8" fill="#111" font-style="italic" textLength="12.3" lengthAdjust="spacingAndGlyphs" stroke="#111" stroke-width="0.28" >49 -</text>
<rect x="19.10" y="178.60" width="67.30" height="21.30" fill="#ececec" stroke="none" stroke-width="1" />
<rect x="19.10" y="199.90" width="67.30" height="20.80" fill="#d3d3d3" stroke="none" stroke-width="1" />
<rect x="19.10" y="222.40" width="67.30" height="16.00" fill="#f0f0f0" stroke="none" stroke-width="1" />
<rect x="89.90" y="178.90" width="69.70" height="21.10" fill="#efefef" stroke="none" stroke-width="1" />
<rect x="89.90" y="200.00" width="69.70" height="21.50" fill="#e8e8e8" stroke="none" stroke-width="1" />
<rect x="89.90" y="221.50" width="69.70" height="17.00" fill="#e6e6e6" stroke="none" stroke-width="1" />
<rect x="167.70" y="178.90" width="73.00" height="19.70" fill="#dedede" stroke="none" stroke-width="1" />
<rect x="167.70" y="199.60" width="73.00" height="20.80" fill="#d4d4d4" stroke="none" stroke-width="1" />
<rect x="167.70" y="222.40" width="73.00" height="15.90" fill="#ededed" stroke="none" stroke-width="1" />
<rect x="244.30" y="179.00" width="89.40" height="19.20" fill="#c6c6c6" stroke="none" stroke-width="1" />
<rect x="244.30" y="200.00" width="89.40" height="19.20" fill="#e9e9e9" stroke="none" stroke-width="1" />
<rect x="244.30" y="221.30" width="89.40" height="16.60" fill="#e4e4e4" stroke="none" stroke-width="1" />
<g>
<clipPath id="c1"><rect x="19.1" y="178.6" width="67.30" height="21.30"/></clipPath><g clip-path="url(#c1)">
<ellipse cx="30.75" cy="190.40" rx="8.85" ry="3.55" fill="#000" opacity="0.22" filter="url(#b3)"/>
<rect x="22.40" y="188.05" width="16.70" height="3.90" rx="6.24" ry="1.95" fill="#000" opacity="0.8" filter="url(#b1)"/>
<ellipse cx="51.65" cy="190.40" rx="9.05" ry="4.05" fill="#000" opacity="0.22" filter="url(#b3)"/>
<rect x="43.10" y="187.55" width="17.10" height="4.90" rx="7.84" ry="2.45" fill="#000" opacity="1.0" filter="url(#b1)"/>
<ellipse cx="75.00" cy="189.30" rx="9.70" ry="4.75" fill="#000" opacity="0.22" filter="url(#b3)"/>
<rect x="65.80" y="185.75" width="18.40" height="6.30" rx="9.20" ry="3.15" fill="#000" opacity="1.0" filter="url(#b1)"/>
</g>
<clipPath id="c2"><rect x="19.1" y="199.9" width="67.30" height="20.80"/></clipPath><g clip-path="url(#c2)">
<ellipse cx="30.75" cy="210.40" rx="9.05" ry="4.05" fill="#000" opacity="0.22" filter="url(#b3)"/>
<rect x="22.20" y="207.55" width="17.10" height="4.90" rx="7.84" ry="2.45" fill="#000" opacity="0.95" filter="url(#b2)"/>
<ellipse cx="52.50" cy="211.60" rx="8.80" ry="3.65" fill="#000" opacity="0.22" filter="url(#b3)"/>
<rect x="44.20" y="209.15" width="16.60" height="4.10" rx="6.56" ry="2.05" fill="#000" opacity="0.8" filter="url(#b2)"/>
<ellipse cx="75.05" cy="210.70" rx="9.45" ry="3.95" fill="#000" opacity="0.22" filter="url(#b3)"/>
<rect x="66.10" y="207.95" width="17.90" height="4.70" rx="7.52" ry="2.35" fill="#000" opacity="0.85" filter="url(#b2)"/>
</g>
<clipPath id="c3"><rect x="19.1" y="222.4" width="67.30" height="16.00"/></clipPath><g clip-path="url(#c3)">
<ellipse cx="32.50" cy="230.60" rx="11.80" ry="4.55" fill="#000" opacity="0.22" filter="url(#b3)"/>
<rect x="21.20" y="227.25" width="22.60" height="5.90" rx="9.44" ry="2.95" fill="#000" opacity="1.0" filter="url(#b1)"/>
<ellipse cx="53.30" cy="230.60" rx="12.00" ry="4.55" fill="#000" opacity="0.22" filter="url(#b3)"/>
<rect x="41.80" y="227.25" width="23.00" height="5.90" rx="9.44" ry="2.95" fill="#000" opacity="1.0" filter="url(#b1)"/>
<ellipse cx="74.85" cy="230.20" rx="11.75" ry="4.35" fill="#000" opacity="0.22" filter="url(#b3)"/>
<rect x="63.60" y="227.05" width="22.50" height="5.50" rx="8.80" ry="2.75" fill="#000" opacity="1.0" filter="url(#b1)"/>
</g>
<clipPath id="c4"><rect x="89.9" y="178.9" width="69.70" height="21.10"/></clipPath><g clip-path="url(#c4)">
<ellipse cx="102.05" cy="190.60" rx="10.05" ry="3.05" fill="#000" opacity="0.22" filter="url(#b3)"/>
<rect x="92.50" y="188.75" width="19.10" height="2.90" rx="4.64" ry="1.45" fill="#000" opacity="1.0" filter="url(#b1)"/>
<ellipse cx="124.70" cy="189.90" rx="10.40" ry="3.75" fill="#000" opacity="0.22" filter="url(#b3)"/>
<rect x="114.80" y="187.35" width="19.80" height="4.30" rx="6.88" ry="2.15" fill="#000" opacity="1.0" filter="url(#b1)"/>
<ellipse cx="147.30" cy="188.40" rx="10.40" ry="3.55" fill="#000" opacity="0.22" filter="url(#b3)"/>
<rect x="137.40" y="186.05" width="19.80" height="3.90" rx="6.24" ry="1.95" fill="#000" opacity="1.0" filter="url(#b1)"/>
</g>
<clipPath id="c5"><rect x="89.9" y="200.0" width="69.70" height="21.50"/></clipPath><g clip-path="url(#c5)">
<ellipse cx="101.75" cy="213.60" rx="9.75" ry="3.05" fill="#000" opacity="0.22" filter="url(#b3)"/>
<rect x="92.50" y="211.75" width="18.50" height="2.90" rx="4.64" ry="1.45" fill="#000" opacity="1.0" filter="url(#b1)"/>
<ellipse cx="125.65" cy="212.70" rx="9.45" ry="3.05" fill="#000" opacity="0.22" filter="url(#b3)"/>
<rect x="116.70" y="210.85" width="17.90" height="2.90" rx="4.64" ry="1.45" fill="#000" opacity="0.95" filter="url(#b1)"/>
<ellipse cx="147.30" cy="213.20" rx="8.50" ry="2.95" fill="#000" opacity="0.22" filter="url(#b3)"/>
<rect x="139.30" y="211.45" width="16.00" height="2.70" rx="4.32" ry="1.35" fill="#000" opacity="0.9" filter="url(#b1)"/>
</g>
<clipPath id="c6"><rect x="89.9" y="221.5" width="69.70" height="17.00"/></clipPath><g clip-path="url(#c6)">
<ellipse cx="103.00" cy="230.30" rx="10.40" ry="3.45" fill="#000" opacity="0.22" filter="url(#b3)"/>
<rect x="93.10" y="228.05" width="19.80" height="3.70" rx="5.92" ry="1.85" fill="#000" opacity="1.0" filter="url(#b1)"/>
<ellipse cx="124.70" cy="231.10" rx="10.40" ry="3.75" fill="#000" opacity="0.22" filter="url(#b3)"/>
<rect x="114.80" y="228.55" width="19.80" height="4.30" rx="6.88" ry="2.15" fill="#000" opacity="1.0" filter="url(#b1)"/>
<ellipse cx="147.00" cy="232.60" rx="11.30" ry="3.85" fill="#000" opacity="0.22" filter="url(#b3)"/>
<rect x="136.20" y="229.95" width="21.60" height="4.50" rx="7.20" ry="2.25" fill="#000" opacity="1.0" filter="url(#b1)"/>
</g>
<clipPath id="c7"><rect x="167.7" y="178.9" width="73.00" height="19.70"/></clipPath><g clip-path="url(#c7)">
<rect x="171.10" y="188.45" width="16.70" height="3.30" rx="5.28" ry="1.65" fill="#000" opacity="0.22" filter="url(#b2)"/>
<rect x="192.40" y="187.25" width="16.70" height="3.50" rx="5.60" ry="1.75" fill="#000" opacity="0.25" filter="url(#b2)"/>
<rect x="214.40" y="185.55" width="19.40" height="3.50" rx="5.60" ry="1.75" fill="#000" opacity="0.18" filter="url(#b2)"/>
</g>
<clipPath id="c8"><rect x="167.7" y="199.6" width="73.00" height="20.80"/></clipPath><g clip-path="url(#c8)">
<ellipse cx="179.10" cy="211.50" rx="8.50" ry="3.45" fill="#000" opacity="0.22" filter="url(#b3)"/>
<rect x="171.10" y="209.25" width="16.00" height="3.70" rx="5.92" ry="1.85" fill="#000" opacity="1.0" filter="url(#b1)"/>
<ellipse cx="201.05" cy="210.40" rx="9.15" ry="3.55" fill="#000" opacity="0.22" filter="url(#b3)"/>
<rect x="192.40" y="208.05" width="17.30" height="3.90" rx="6.24" ry="1.95" fill="#000" opacity="1.0" filter="url(#b1)"/>
<ellipse cx="225.45" cy="208.20" rx="10.95" ry="3.65" fill="#000" opacity="0.22" filter="url(#b3)"/>
<rect x="215.00" y="205.75" width="20.90" height="4.10" rx="6.56" ry="2.05" fill="#000" opacity="1.0" filter="url(#b1)"/>
<rect x="169.20" y="210.15" width="68.60" height="7.70" rx="12.32" ry="3.85" fill="#000" opacity="0.22" filter="url(#b3)"/>
</g>
<clipPath id="c9"><rect x="167.7" y="222.4" width="73.00" height="15.90"/></clipPath><g clip-path="url(#c9)">
<ellipse cx="180.05" cy="230.20" rx="11.35" ry="4.15" fill="#000" opacity="0.22" filter="url(#b3)"/>
<rect x="169.20" y="227.25" width="21.70" height="5.10" rx="8.16" ry="2.55" fill="#000" opacity="1.0" filter="url(#b1)"/>
<ellipse cx="203.30" cy="229.80" rx="10.70" ry="4.05" fill="#000" opacity="0.22" filter="url(#b3)"/>
<rect x="193.10" y="226.95" width="20.40" height="4.90" rx="7.84" ry="2.45" fill="#000" opacity="1.0" filter="url(#b1)"/>
<ellipse cx="227.60" cy="228.80" rx="11.90" ry="3.95" fill="#000" opacity="0.22" filter="url(#b3)"/>
<rect x="216.20" y="226.05" width="22.80" height="4.70" rx="7.52" ry="2.35" fill="#000" opacity="0.95" filter="url(#b1)"/>
</g>
<clipPath id="c10"><rect x="244.3" y="179.0" width="89.40" height="19.20"/></clipPath><g clip-path="url(#c10)">
<rect x="288.50" y="179.00" width="4.50" height="19.50" fill="#e4e4e4" stroke="none" stroke-width="1" filter="url(#b2)" opacity="0.8"/>
<rect x="310.50" y="179.00" width="4.50" height="19.50" fill="#e2e2e2" stroke="none" stroke-width="1" filter="url(#b2)" opacity="0.8"/>
<rect x="266.00" y="179.00" width="4.00" height="19.50" fill="#dcdcdc" stroke="none" stroke-width="1" filter="url(#b2)" opacity="0.7"/>
<rect x="247.20" y="181.90" width="19.60" height="4.20" rx="6.72" ry="2.10" fill="#000" opacity="0.18" filter="url(#b3)"/>
<rect x="269.20" y="181.65" width="20.10" height="4.30" rx="6.88" ry="2.15" fill="#000" opacity="0.45" filter="url(#b3)"/>
<rect x="292.20" y="181.65" width="19.60" height="4.30" rx="6.88" ry="2.15" fill="#000" opacity="0.42" filter="url(#b3)"/>
<rect x="314.20" y="182.40" width="18.60" height="4.20" rx="6.72" ry="2.10" fill="#000" opacity="0.12" filter="url(#b3)"/>
<ellipse cx="253.70" cy="189.50" rx="6.10" ry="3.05" fill="#000" opacity="0.22" filter="url(#b3)"/>
<rect x="248.10" y="187.65" width="11.20" height="2.90" rx="4.64" ry="1.45" fill="#000" opacity="1.0" filter="url(#b1)"/>
<rect x="255.20" y="189.05" width="11.10" height="2.30" rx="3.68" ry="1.15" fill="#000" opacity="0.5" filter="url(#b1)"/>
<ellipse cx="279.80" cy="190.40" rx="9.70" ry="3.45" fill="#000" opacity="0.22" filter="url(#b3)"/>
<rect x="270.60" y="188.15" width="18.40" height="3.70" rx="5.92" ry="1.85" fill="#000" opacity="1.0" filter="url(#b1)"/>
<ellipse cx="302.30" cy="189.70" rx="9.80" ry="3.40" fill="#000" opacity="0.22" filter="url(#b3)"/>
<rect x="293.00" y="187.50" width="18.60" height="3.60" rx="5.76" ry="1.80" fill="#000" opacity="1.0" filter="url(#b1)"/>
<rect x="315.20" y="188.75" width="16.60" height="3.50" rx="5.60" ry="1.75" fill="#000" opacity="0.12" filter="url(#b2)"/>
</g>
<clipPath id="c11"><rect x="244.3" y="200.0" width="89.40" height="19.20"/></clipPath><g clip-path="url(#c11)">
<ellipse cx="257.65" cy="209.60" rx="9.45" ry="2.90" fill="#000" opacity="0.22" filter="url(#b3)" transform="rotate(5 257.65 209.20)"/>
<rect x="248.70" y="207.90" width="17.90" height="2.60" rx="4.16" ry="1.30" fill="#000" opacity="1.0" filter="url(#b1)" transform="rotate(5 257.65 209.20)"/>
<ellipse cx="278.25" cy="211.40" rx="9.95" ry="2.95" fill="#000" opacity="0.22" filter="url(#b3)"/>
<rect x="268.80" y="209.65" width="18.90" height="2.70" rx="4.32" ry="1.35" fill="#000" opacity="1.0" filter="url(#b1)"/>
<ellipse cx="299.80" cy="212.70" rx="10.40" ry="3.00" fill="#000" opacity="0.22" filter="url(#b3)"/>
<rect x="289.90" y="210.90" width="19.80" height="2.80" rx="4.48" ry="1.40" fill="#000" opacity="1.0" filter="url(#b1)"/>
<ellipse cx="321.40" cy="213.20" rx="10.10" ry="2.95" fill="#000" opacity="0.22" filter="url(#b3)"/>
<rect x="311.80" y="211.45" width="19.20" height="2.70" rx="4.32" ry="1.35" fill="#000" opacity="1.0" filter="url(#b1)"/>
</g>
<clipPath id="c12"><rect x="244.3" y="221.3" width="89.40" height="16.60"/></clipPath><g clip-path="url(#c12)">
<ellipse cx="258.90" cy="227.30" rx="10.70" ry="3.20" fill="#000" opacity="0.22" filter="url(#b3)" transform="rotate(4 258.90 226.90)"/>
<rect x="248.70" y="225.30" width="20.40" height="3.20" rx="5.12" ry="1.60" fill="#000" opacity="1.0" filter="url(#b1)" transform="rotate(4 258.90 226.90)"/>
<ellipse cx="279.80" cy="229.40" rx="10.30" ry="3.40" fill="#000" opacity="0.22" filter="url(#b3)"/>
<rect x="270.00" y="227.20" width="19.60" height="3.60" rx="5.76" ry="1.80" fill="#000" opacity="1.0" filter="url(#b1)"/>
<ellipse cx="301.00" cy="230.20" rx="10.40" ry="3.40" fill="#000" opacity="0.22" filter="url(#b3)"/>
<rect x="291.10" y="228.00" width="19.80" height="3.60" rx="5.76" ry="1.80" fill="#000" opacity="1.0" filter="url(#b1)"/>
<ellipse cx="321.40" cy="231.10" rx="10.10" ry="3.20" fill="#000" opacity="0.22" filter="url(#b3)"/>
<rect x="311.80" y="229.10" width="19.20" height="3.20" rx="5.12" ry="1.60" fill="#000" opacity="1.0" filter="url(#b1)"/>
</g>
</g>
<rect x="19.10" y="178.60" width="67.30" height="21.30" fill="none" stroke="#505050" stroke-width="0.9" />
<rect x="19.10" y="199.90" width="67.30" height="20.80" fill="none" stroke="#505050" stroke-width="0.9" />
<rect x="19.10" y="222.40" width="67.30" height="16.00" fill="none" stroke="#505050" stroke-width="0.9" />
<rect x="89.90" y="178.90" width="69.70" height="21.10" fill="none" stroke="#505050" stroke-width="0.9" />
<rect x="89.90" y="200.00" width="69.70" height="21.50" fill="none" stroke="#505050" stroke-width="0.9" />
<rect x="89.90" y="221.50" width="69.70" height="17.00" fill="none" stroke="#505050" stroke-width="0.9" />
<rect x="167.70" y="178.90" width="73.00" height="19.70" fill="none" stroke="#505050" stroke-width="0.9" />
<rect x="167.70" y="199.60" width="73.00" height="20.80" fill="none" stroke="#505050" stroke-width="0.9" />
<rect x="167.70" y="222.40" width="73.00" height="15.90" fill="none" stroke="#505050" stroke-width="0.9" />
<rect x="244.30" y="179.00" width="89.40" height="19.20" fill="none" stroke="#505050" stroke-width="0.9" />
<rect x="244.30" y="200.00" width="89.40" height="19.20" fill="none" stroke="#505050" stroke-width="0.9" />
<rect x="244.30" y="221.30" width="89.40" height="16.60" fill="none" stroke="#505050" stroke-width="0.9" />
<text x="336.9" y="188.7" font-size="7.1" fill="#111" font-style="italic" textLength="27.6" lengthAdjust="spacingAndGlyphs" stroke="#111" stroke-width="0.25" >phospho</text>
<text x="343.2" y="197.1" font-size="7.1" fill="#111" font-style="italic" textLength="13.8" lengthAdjust="spacingAndGlyphs" stroke="#111" stroke-width="0.25" >dCK</text>
<text x="336.9" y="213.4" font-size="7.1" fill="#111" font-style="italic" textLength="13.8" lengthAdjust="spacingAndGlyphs" stroke="#111" stroke-width="0.25" >dCK</text>
<text x="336.9" y="231.5" font-size="7.0" fill="#111" font-style="italic" textLength="22.0" lengthAdjust="spacingAndGlyphs" stroke="#111" stroke-width="0.25" >Tubulin</text>
<text x="30.1" y="248.8" font-size="7.3" fill="#0c0c0c" text-anchor="middle" stroke="#0c0c0c" stroke-width="0.28" >1</text>
<text x="51.1" y="248.8" font-size="7.3" fill="#0c0c0c" text-anchor="middle" stroke="#0c0c0c" stroke-width="0.28" >1.3</text>
<text x="74.0" y="248.8" font-size="7.3" fill="#0c0c0c" text-anchor="middle" stroke="#0c0c0c" stroke-width="0.28" >1 .7</text>
<text x="101.7" y="248.8" font-size="7.3" fill="#0c0c0c" text-anchor="middle" stroke="#0c0c0c" stroke-width="0.28" >1</text>
<text x="124.4" y="248.8" font-size="7.3" fill="#0c0c0c" text-anchor="middle" stroke="#0c0c0c" stroke-width="0.28" >2.1</text>
<text x="146.1" y="248.8" font-size="7.3" fill="#0c0c0c" text-anchor="middle" stroke="#0c0c0c" stroke-width="0.28" >1.8</text>
<text x="180.1" y="248.8" font-size="7.3" fill="#0c0c0c" text-anchor="middle" stroke="#0c0c0c" stroke-width="0.28" >1</text>
<text x="202.4" y="248.8" font-size="7.3" fill="#0c0c0c" text-anchor="middle" stroke="#0c0c0c" stroke-width="0.28" >1.1</text>
<text x="226.3" y="248.8" font-size="7.3" fill="#0c0c0c" text-anchor="middle" stroke="#0c0c0c" stroke-width="0.28" >0.9</text>
<text x="259.9" y="248.8" font-size="7.3" fill="#0c0c0c" text-anchor="middle" stroke="#0c0c0c" stroke-width="0.28" >1</text>
<text x="279.7" y="248.8" font-size="7.3" fill="#0c0c0c" text-anchor="middle" stroke="#0c0c0c" stroke-width="0.28" >2.2</text>
<text x="300.3" y="248.8" font-size="7.3" fill="#0c0c0c" text-anchor="middle" stroke="#0c0c0c" stroke-width="0.28" >1.7</text>
<text x="321.1" y="248.8" font-size="7.3" fill="#0c0c0c" text-anchor="middle" stroke="#0c0c0c" stroke-width="0.28" >0.9</text>
<line x1="28.2" y1="252.7" x2="334.0" y2="252.7" stroke="#333" stroke-width="1.0" />
<text x="92.5" y="263.8" font-size="7.7" fill="#0c0c0c" textLength="170.5" lengthAdjust="spacingAndGlyphs" stroke="#0c0c0c" stroke-width="0.2" style="white-space:pre">Ratio phospho-dCK/dCK  (with respect to control)</text>
</g>
</svg>
</body></html>
